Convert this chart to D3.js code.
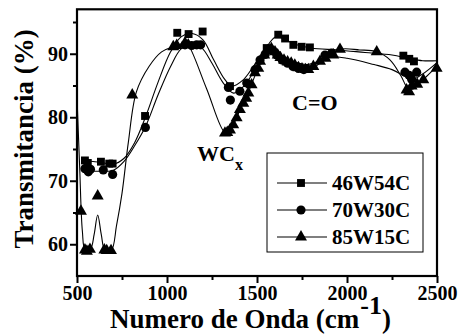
<!DOCTYPE html>
<html>
<head>
<meta charset="utf-8">
<script src="https://cdn.jsdelivr.net/npm/d3@7"></script>
<style>
  body { margin: 0; background: #fff; }
</style>
</head>
<body>
<div id="chart"></div>
<script>
const serif = 'Liberation Serif';
// markers
const sqX = [544, 560, 633, 679, 698, 878, 1057, 1120, 1198, 1350, 1554, 1618, 1656, 1702, 1748, 1794, 2313, 2346, 2372];
const sqY = [73.2, 72.8, 73.0, 72.7, 72.7, 80.2, 93.3, 93.1, 93.5, 84.9, 90.9, 93.0, 92.4, 91.4, 91.1, 91.0, 89.7, 89.2, 88.8];

const ciX = [544, 563, 575, 646, 698, 880, 1100, 1137, 1165, 1187, 1341, 1352, 1405, 1443, 1489, 1517, 1545, 1580, 1610, 1640, 1670, 1700, 1730, 1760, 1878, 1915, 2322, 2345, 2359, 2387];
const ciY = [71.9, 71.4, 71.8, 71.7, 71.0, 78.4, 91.4, 91.3, 91.4, 91.4, 84.7, 82.7, 84.1, 85.4, 87.5, 89.0, 89.9, 90.6, 89.8, 89.0, 88.5, 88.0, 87.7, 87.5, 89.8, 90.1, 87.1, 86.6, 86.0, 87.1];

const trX = [522, 544, 555, 572, 615, 652, 665, 689, 807, 1035, 1054, 1100, 1118, 1322, 1335, 1350, 1368, 1387, 1405, 1424, 1440, 1452, 1470, 1489, 1507, 1517, 1540, 1560, 1580, 1600, 1615, 1630, 1650, 1670, 1690, 1710, 1730, 1750, 1770, 1785, 1813, 1850, 1880, 1924, 1961, 2165, 2331, 2345, 2359, 2390, 2424, 2498];
const trY = [65.2, 59.1, 58.9, 59.2, 67.6, 59.1, 59.0, 59.0, 83.5, 91.1, 91.3, 91.7, 91.4, 77.5, 77.6, 78.0, 78.8, 79.9, 81.2, 82.2, 83.0, 83.8, 85.1, 87.0, 87.7, 88.8, 89.8, 90.5, 90.8, 90.3, 89.8, 89.4, 89.0, 88.7, 88.5, 88.2, 87.8, 87.6, 87.5, 87.5, 88.0, 88.8, 89.3, 89.8, 90.7, 90.3, 84.3, 84.0, 84.9, 85.2, 85.9, 87.7];

// smoothed fit curves
const sqFitX = [540, 600, 650, 700, 760, 820, 880, 950, 1020, 1080, 1140, 1200, 1260, 1320, 1360, 1420, 1480, 1540, 1600, 1640, 1700, 1800, 1950, 2100, 2250, 2350, 2420, 2500];
const sqFitY = [73.2, 73.0, 72.8, 72.6, 73.5, 76.0, 80.0, 85.5, 90.3, 92.7, 93.2, 92.2, 89.0, 86.0, 84.9, 85.8, 88.0, 90.5, 92.6, 92.5, 91.6, 90.9, 90.6, 90.2, 89.8, 89.2, 88.9, 88.9];

const ciFitX = [540, 600, 650, 700, 760, 820, 880, 950, 1020, 1080, 1140, 1190, 1250, 1310, 1370, 1430, 1500, 1550, 1600, 1650, 1720, 1780, 1840, 1900, 2000, 2150, 2250, 2320, 2365, 2420, 2500];
const ciFitY = [71.7, 71.5, 71.5, 71.6, 73.0, 75.5, 78.5, 83.5, 88.0, 90.8, 91.4, 91.0, 88.5, 85.5, 83.8, 85.0, 88.0, 89.8, 90.3, 89.5, 88.6, 88.3, 88.8, 89.5, 89.3, 88.3, 87.5, 86.5, 86.0, 86.8, 88.6];

const trFitX = [500, 515, 530, 545, 575, 595, 615, 635, 655, 690, 720, 750, 785, 830, 900, 970, 1035, 1100, 1120, 1220, 1322, 1350, 1400, 1450, 1500, 1550, 1590, 1620, 1700, 1780, 1820, 1880, 1960, 2070, 2165, 2240, 2300, 2340, 2370, 2430, 2500];
const trFitY = [83.2, 72.0, 62.0, 59.2, 59.3, 61.5, 64.6, 61.5, 59.1, 59.0, 63.0, 68.0, 76.0, 84.0, 88.0, 90.3, 91.1, 91.7, 91.3, 84.5, 77.6, 77.9, 80.8, 83.8, 87.3, 90.2, 90.8, 90.0, 88.5, 87.4, 87.9, 89.2, 90.7, 90.6, 90.3, 89.0, 86.5, 84.5, 84.5, 86.1, 88.0];

const xTicks = [500, 1000, 1500, 2000, 2500];
const xMinor = [750, 1250, 1750, 2250];
const yTicks = [60, 70, 80, 90];
const yMinor = [65, 75, 85, 95];
const seriesNames = ['46W54C', '70W30C', '85W15C'];

const W = 461, H = 335;
const svg = d3.select('#chart').append('svg').attr('width', W).attr('height', H);

const x = d3.scaleLinear().domain([500, 2500]).range([77, 437]);
const y = d3.scaleLinear().domain([55, 97]).range([276, 9.3]);

const plot = svg.append('g');

// fit lines
const line = d3.line().x(d => x(d[0])).y(d => y(d[1])).curve(d3.curveCatmullRom.alpha(0.5));
[[sqFitX, sqFitY], [ciFitX, ciFitY], [trFitX, trFitY]].forEach(([xs, ys]) => {
  plot.append('path')
    .datum(xs.map((v, i) => [v, ys[i]]))
    .attr('d', line)
    .attr('fill', 'none')
    .attr('stroke', '#000')
    .attr('stroke-width', 1.1);
});

const sym = [
  d3.symbol().type(d3.symbolSquare).size(62),
  d3.symbol().type(d3.symbolCircle).size(66),
  d3.symbol().type(d3.symbolTriangle).size(62)
];
[[sqX, sqY], [ciX, ciY], [trX, trY]].forEach(([xs, ys], k) => {
  plot.selectAll(null)
    .data(xs.map((v, i) => [v, ys[i]]))
    .enter().append('path')
    .attr('d', sym[k])
    .attr('transform', d => `translate(${x(d[0])},${y(d[1])})`)
    .attr('fill', '#000');
});

// frame
svg.append('rect')
  .attr('x', 77).attr('y', 9.3)
  .attr('width', 360).attr('height', 276 - 9.3)
  .attr('fill', 'none').attr('stroke', '#000').attr('stroke-width', 2.2);

// axes
svg.append('g').attr('transform', 'translate(0,276)')
  .call(d3.axisBottom(x).tickValues(xTicks).tickSize(7).tickSizeOuter(0).tickPadding(3).tickFormat(d3.format('d')));
svg.append('g').attr('transform', 'translate(0,276)')
  .call(d3.axisBottom(x).tickValues(xMinor).tickSize(4).tickSizeOuter(0).tickFormat(''));
svg.append('g').attr('transform', 'translate(77,0)')
  .call(d3.axisLeft(y).tickValues(yTicks).tickSize(7).tickSizeOuter(0).tickPadding(2));
svg.append('g').attr('transform', 'translate(77,0)')
  .call(d3.axisLeft(y).tickValues(yMinor).tickSize(4).tickSizeOuter(0).tickFormat(''));

svg.selectAll('.domain').remove();
svg.selectAll('.tick line').attr('stroke-width', 2);
svg.selectAll('g').attr('font-family', serif);
svg.selectAll('.tick text').attr('font-size', 20).attr('fill', '#000');

// axis titles
const xt = svg.append('text').attr('x', 110).attr('y', 328).attr('font-size', 27);
xt.append('tspan').text('Numero de Onda (cm');
xt.append('tspan').attr('dy', -14).attr('dx', 1).attr('font-size', 26).text('-1');
xt.append('tspan').attr('dy', 14).text(')');

svg.append('text')
  .attr('transform', 'translate(33,139) rotate(-90)')
  .attr('text-anchor', 'middle')
  .attr('font-size', 27)
  .text('Transmitancia (%)');

// annotations
const wc = svg.append('text').attr('x', 197).attr('y', 161).attr('font-size', 22);
wc.append('tspan').text('WC');
wc.append('tspan').attr('dy', 9).attr('font-size', 16).text('x');

svg.append('text').attr('x', 292).attr('y', 110).attr('font-size', 22).text('C=O');

// legend
const leg = svg.append('g');
leg.append('rect')
  .attr('x', 267).attr('y', 153).attr('width', 156).attr('height', 99)
  .attr('fill', '#fff').attr('stroke', '#000').attr('stroke-width', 1);
seriesNames.forEach((name, i) => {
  const cy = 183 + i * 27;
  leg.append('line').attr('x1', 277).attr('x2', 327).attr('y1', cy).attr('y2', cy)
    .attr('stroke', '#000').attr('stroke-width', 1.1);
  leg.append('path').attr('d', sym[i]).attr('transform', `translate(301,${cy})`).attr('fill', '#000');
  leg.append('text').attr('x', 332).attr('y', cy + 7).attr('font-size', 21).text(name);
});

svg.selectAll('text').attr('font-family', serif).attr('font-weight', 'bold');
</script>
</body>
</html>
